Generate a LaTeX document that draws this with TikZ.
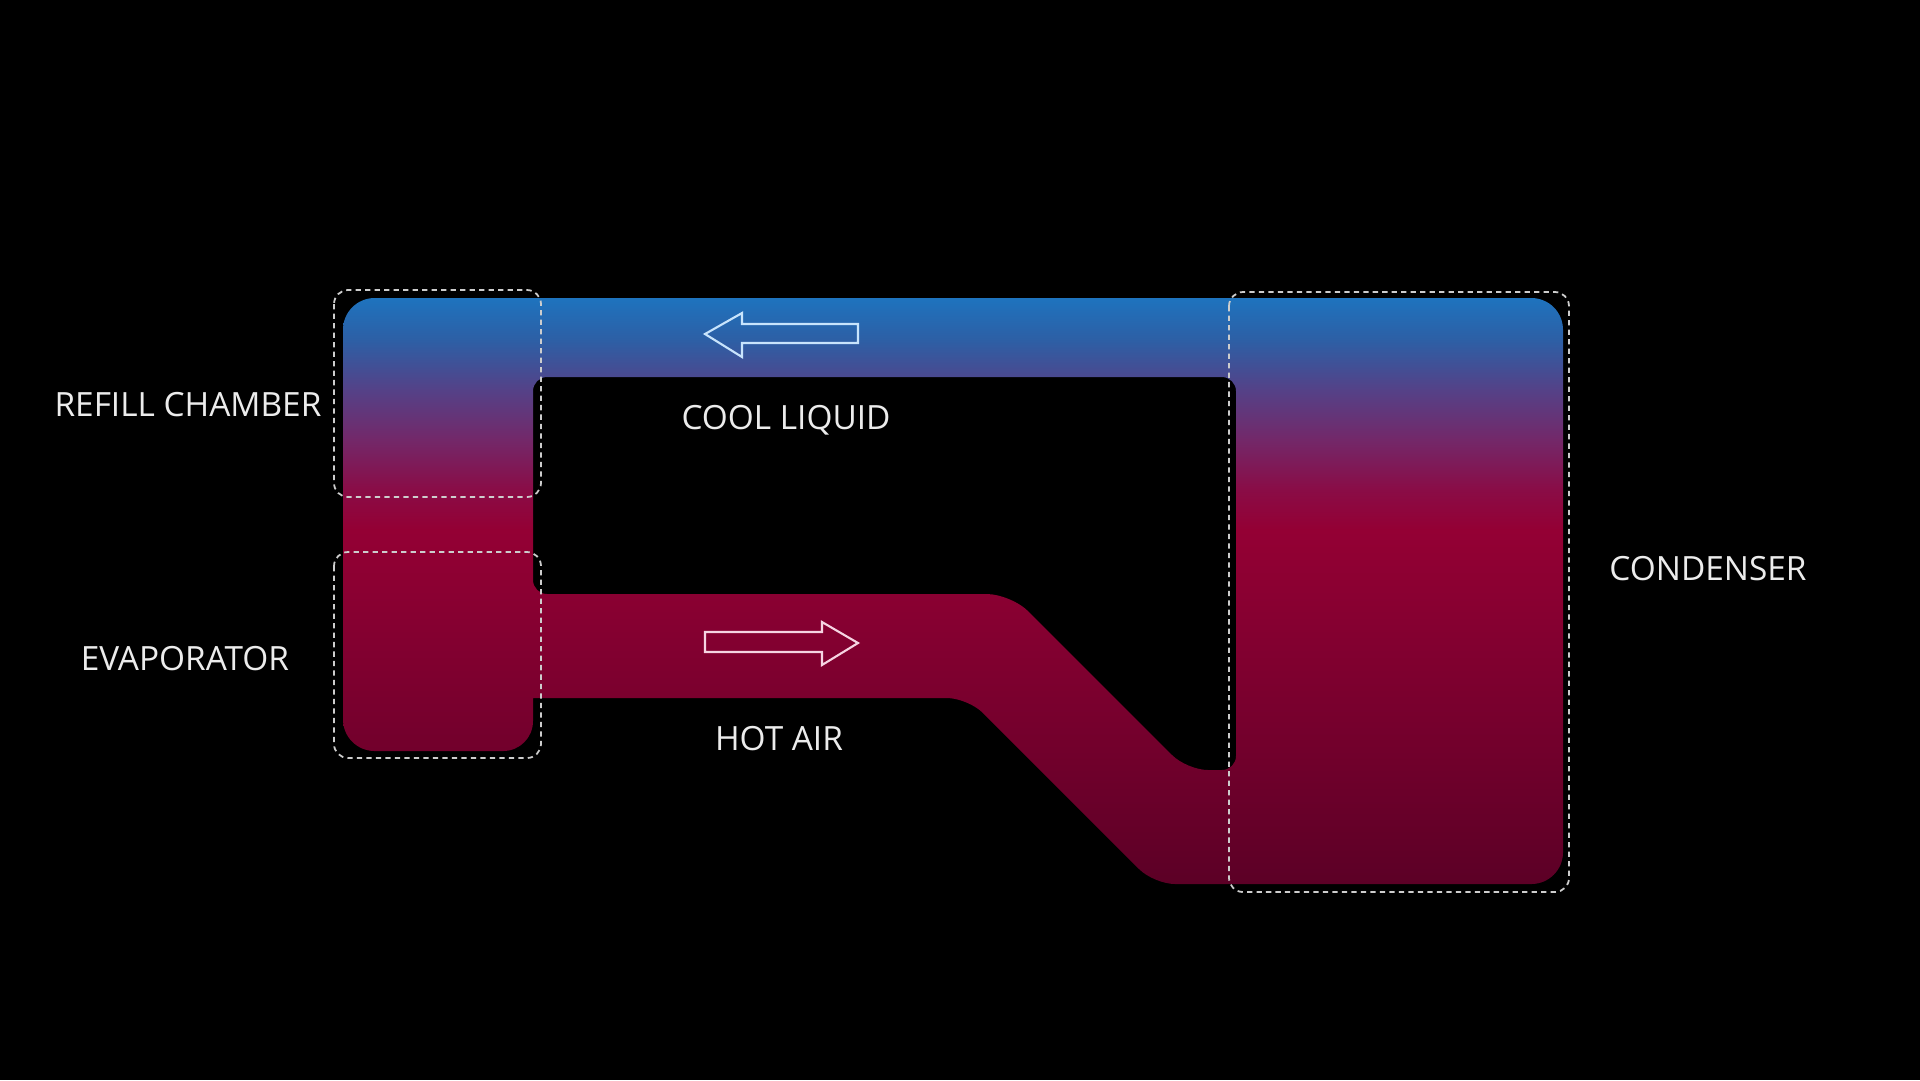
\documentclass[tikz,border=0pt]{standalone}
\usepackage{xcolor}
\usepackage{fontspec}
\setmainfont{Open Sans}
\usepackage{tikz}
\usetikzlibrary{calc}

\definecolor{topblue}{RGB}{30,115,190}
\definecolor{blueB}{RGB}{45,95,165}
\definecolor{purp}{RGB}{85,65,135}
\definecolor{plum}{RGB}{115,40,105}
\definecolor{wine}{RGB}{138,12,70}
\definecolor{crimson}{RGB}{148,0,52}
\definecolor{redB}{RGB}{122,0,46}
\definecolor{darkred}{RGB}{92,0,38}
\definecolor{boxline}{RGB}{205,205,205}
\definecolor{labeltext}{RGB}{236,236,236}
\definecolor{coolline}{RGB}{200,228,252}
\definecolor{hotline}{RGB}{246,212,226}

\pgfdeclareverticalshading{fluid}{100bp}{color(0bp)=(darkred); color(25bp)=(darkred);
  color(40.7bp)=(redB); color(55.2bp)=(crimson); color(58.6bp)=(wine);
  color(62.9bp)=(plum); color(67.1bp)=(purp); color(71.4bp)=(blueB);
  color(75bp)=(topblue); color(100bp)=(topblue)}

\begin{document}
\begin{tikzpicture}[x=0.1mm, y=-0.1mm,
    zone/.style={draw=boxline, line width=0.5pt, dash pattern=on 1.5pt off 1.2pt, rounded corners=4pt},
    label/.style={text=labeltext, font=\fontsize{9.5}{11}\selectfont, anchor=base, inner sep=0pt},
    flow/.style={line width=0.6pt, line join=miter}]
    \useasboundingbox (0, 0) rectangle (1920, 1080);
    \fill [black] (0, 0) rectangle (1920, 1080);

    % fluid loop with the hole cut out
    \path [shading=fluid, even odd rule, rounded corners=9pt]
        (700, 298) -- (1563, 298) -- (1563, 884) [rounded corners=6pt] -- (1154, 884)
        -- (968, 698) [sharp corners] -- (533, 698) [rounded corners=8.5pt] -- (533, 751)
        [rounded corners=9pt] -- (343, 751) -- (343, 298) -- cycle
        [rounded corners=4pt] (800, 377) -- (1236, 377) -- (1236, 770)
        [rounded corners=6pt] -- (1187, 770) [rounded corners=7pt] -- (1011, 594)
        [rounded corners=4pt] -- (533, 594) -- (533, 377) -- cycle;

    % zones
    \draw [zone] (334, 290) rectangle (541, 497);
    \draw [zone] (334, 552) rectangle (541, 758);
    \draw [zone] (1229, 292) rectangle (1569, 892);

    % flow arrows
    \draw [flow, coolline] (705, 334) -- (742, 313) -- (742, 324) -- (858, 324)
        -- (858, 343) -- (742, 343) -- (742, 357) -- cycle;
    \draw [flow, hotline] (705, 632) -- (822, 632) -- (822, 622) -- (858, 643)
        -- (822, 665) -- (822, 652) -- (705, 652) -- cycle;

    \node (refill) [label] at (188, 416) {REFILL CHAMBER};
    \node (evap) [label] at (185, 670) {EVAPORATOR};
    \node (cool) [label] at (786, 429) {COOL LIQUID};
    \node (hot) [label] at (779, 750) {HOT AIR};
    \node (cond) [label] at (1708, 580) {CONDENSER};

\end{tikzpicture}
\end{document}
